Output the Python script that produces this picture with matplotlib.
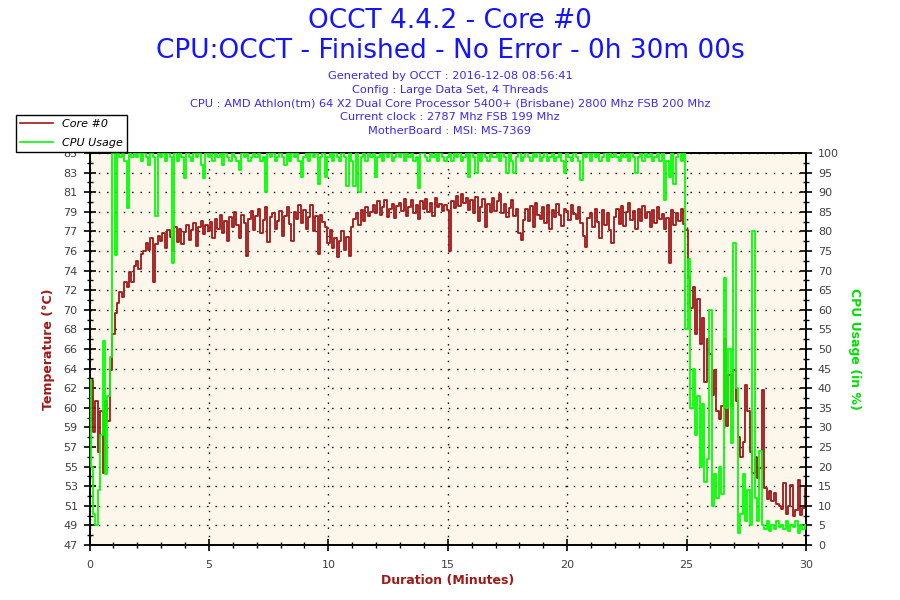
import matplotlib
matplotlib.use("Agg")
import matplotlib.pyplot as plt
from matplotlib.lines import Line2D
from matplotlib.ticker import MultipleLocator, FixedLocator
import numpy as np

# ---------------- data ----------------
# samples every 0.1 minute from 0.0 to 30.0
sample_step_min = 0.1

core0_temp = [
    59, 63, 58, 61, 56, 60, 54, 61, 59, 64,
    67.5, 69.5, 70.5, 71.5, 71, 72.5, 72, 73.5, 72.5, 74,
    74.5, 73.8, 75.2, 75.5, 76.3, 75.6, 76.8, 72.5, 76.2, 77.0,
    76.5, 77.2, 75.8, 77.5, 76.9, 75.5, 77.8, 76.4, 77.6, 76.2,
    77.3, 78.0, 76.6, 77.5, 78.2, 76.0, 77.8, 78.4, 77.1, 78.0,
    77.4, 78.3, 76.8, 78.6, 77.6, 79.0, 77.2, 78.4, 76.5, 78.8,
    77.8, 79.3, 78.0, 76.8, 79.0, 78.2, 75.0, 78.6, 79.4, 77.5,
    78.9, 79.6, 77.2, 78.5, 79.8, 76.4, 78.8, 79.2, 77.6, 78.4,
    79.4, 77.0, 78.9, 79.8, 78.1, 76.5, 79.3, 78.6, 80.0, 78.2,
    79.5, 77.6, 78.8, 80.0, 77.4, 78.9, 75.2, 79.0, 78.3, 77.8,
    76.3, 77.5, 75.8, 76.8, 74.9, 76.5, 77.4, 75.6, 76.9, 75.0,
    77.8, 78.6, 79.2, 78.0, 79.5, 78.4, 79.8, 78.9, 79.3, 80.0,
    79.2, 80.3, 79.0, 79.8, 80.4, 78.8, 79.6, 80.1, 78.7, 79.9,
    80.2, 79.4, 80.5, 78.9, 79.8, 80.4, 79.2, 80.0, 78.6, 80.3,
    79.6, 80.5, 79.3, 80.2, 78.9, 80.6, 79.8, 80.1, 79.4, 80.0,
    79.5, 75.5, 80.3, 79.7, 80.8, 79.9, 81.0, 80.2, 80.6, 79.5,
    80.4, 79.2, 80.7, 78.4, 79.8, 80.5, 77.8, 80.1, 79.3, 80.6,
    79.4, 80.3, 81.0, 79.2, 80.1, 78.8, 79.7, 80.4, 78.9, 79.6,
    77.2, 76.6, 78.5, 79.6, 78.4, 79.9, 77.8, 80.2, 79.0, 78.6,
    79.8, 78.2, 80.0, 77.6, 79.5, 78.8, 80.1, 79.0, 77.9, 79.6,
    79.4, 78.5, 80.0, 79.1, 78.6, 79.8, 78.2, 77.0, 75.9, 78.7,
    79.2, 77.8, 79.6, 78.3, 76.8, 79.5, 78.0, 79.2, 77.5, 76.3,
    78.8, 79.6, 78.1, 79.9, 77.9, 79.3, 80.2, 78.5, 79.4, 77.6,
    79.6, 78.4, 79.9, 78.7, 79.3, 77.8, 79.5, 78.2, 79.8, 78.6,
    79.1, 77.6, 78.7, 74.3, 79.5, 78.0, 79.2, 78.4, 79.6, 78.1,
    77.5, 73.0, 70.0, 72.0, 67.5, 70.8, 66.5, 69.0, 62.8, 67.0,
    65.5, 61.5, 64.0, 60.0, 59.2, 60.5, 67.0, 58.5, 63.5, 60.5,
    64.0, 61.0, 57.5, 55.5, 57.0, 62.5, 60.0, 56.0, 54.0, 55.5,
    53.5, 54.5, 62.0, 52.5, 51.5, 52.2, 51.3, 52.0, 51.0, 50.8,
    50.5, 53.0, 50.0, 50.8, 52.8, 49.8, 50.4, 53.3, 49.9, 50.6,
    52.5,
]

cpu_usage = [
    42, 20, 8, 5, 14, 28, 52, 18, 38, 48,
    100, 74, 100, 99, 100, 98, 86, 100, 99, 100,
    99, 100, 98, 100, 99, 97, 100, 99, 84, 100,
    99, 100, 98, 100, 99, 72, 100, 98, 100, 99,
    93.6, 100, 99, 98, 100, 99, 100, 97, 93.6, 100,
    99, 100, 98, 100, 99, 100, 97, 100, 99, 98,
    100, 99, 98, 95.6, 100, 99, 100, 98, 99, 100,
    99, 100, 98, 99, 90, 100, 99, 100, 98, 99,
    100, 99, 97, 100, 98, 100, 99, 100, 98, 94,
    99, 100, 98, 100, 99, 100, 92, 99, 100, 94,
    99, 100, 98, 100, 99, 98, 100, 99, 91.5, 100,
    98, 91.5, 100, 90, 99, 100, 98, 100, 99, 100,
    94, 99, 100, 98, 100, 99, 100, 98, 99, 100,
    99, 100, 98, 100, 99, 100, 98, 99, 91, 100,
    100, 99, 98, 100, 99, 100, 98, 100, 99, 98,
    99, 100, 98, 100, 99, 100, 98, 99, 100, 94,
    100, 99, 95, 100, 98, 100, 99, 98, 100, 99,
    99, 100, 98, 100, 99, 95, 100, 98, 95, 99,
    100, 98, 99, 100, 99, 98, 100, 99, 100, 98,
    99, 100, 98, 99, 100, 98, 99, 100, 98, 95,
    100, 99, 98, 100, 99, 98, 93, 100, 99, 100,
    98, 100, 99, 100, 98, 99, 100, 98, 100, 99,
    100, 99, 98, 100, 99, 100, 98, 100, 99, 95,
    99, 100, 98, 100, 99, 100, 98, 99, 100, 98,
    100, 88, 98, 94, 100, 92, 99, 100, 98, 100,
    55, 73, 35, 45, 28, 38, 20, 36, 16, 22,
    60, 10, 18, 12, 20, 13, 68, 35, 50, 26,
    77, 40, 3, 8, 18, 6, 14, 5, 80, 12,
    6, 24, 5, 4, 6, 3.5, 5, 4, 6, 4.5,
    5, 4, 6, 3.5, 5, 4.5, 6, 3, 5, 4,
    5,
]

temp_tick_labels = ['47', '49', '51', '53', '55', '57', '59', '60', '62', '64',
                    '66', '68', '70', '72', '74', '76', '77', '79', '81', '83', '85']
temp_min, temp_max = 47, 85
x_ticks = [0, 5, 10, 15, 20, 25, 30]

title_lines = ["OCCT 4.4.2 - Core #0",
               "CPU:OCCT - Finished - No Error - 0h 30m 00s"]
info_lines = ["Generated by OCCT : 2016-12-08 08:56:41",
              "Config : Large Data Set, 4 Threads",
              "CPU : AMD Athlon(tm) 64 X2 Dual Core Processor 5400+ (Brisbane) 2800 Mhz FSB 200 Mhz",
              "Current clock : 2787 Mhz FSB 199 Mhz",
              "MotherBoard : MSI: MS-7369"]

# ---------------- figure ----------------
RED = '#A01818'
GREEN = '#00FF00'
GREEN_LABEL = '#00E000'
BLUE = '#1414FF'
TICKC = '#404040'

t = np.arange(len(core0_temp)) * sample_step_min

fig = plt.figure(figsize=(9, 6), dpi=100)
ax = fig.add_axes([89.5 / 900, 1 - 545 / 600, (806 - 89.5) / 900, (545 - 153) / 600])
ax.set_facecolor('#FCF7EA')

ax.plot(t, core0_temp, color=RED, lw=1.3, drawstyle='steps-mid', zorder=3)
ax.set_xlim(0, 30)
ax.set_ylim(temp_min, temp_max)

n = len(temp_tick_labels)
temp_pos = [temp_min + (temp_max - temp_min) * k / (n - 1) for k in range(n)]
ax.yaxis.set_major_locator(FixedLocator(temp_pos))
ax.set_yticklabels(temp_tick_labels)
ax.yaxis.set_minor_locator(FixedLocator([p + (temp_max - temp_min) / (n - 1) / 2 for p in temp_pos[:-1]]))
ax.set_xticks(x_ticks)
ax.xaxis.set_minor_locator(MultipleLocator(1))

ax.grid(True, which='major', color='black', linestyle=(0, (1, 5)), linewidth=1.0, zorder=1)

ax.tick_params(axis='both', which='major', direction='inout', length=9, width=1.2,
               labelsize=8, labelcolor=TICKC, color='black')
ax.tick_params(axis='both', which='minor', direction='inout', length=5, width=1.0, color='black')
ax.tick_params(axis='y', pad=4)
ax.tick_params(axis='x', pad=6)
for s in ax.spines.values():
    s.set_linewidth(1.2)
    s.set_color('black')

ax2 = ax.twinx()
ax2.plot(t, cpu_usage, color=GREEN, lw=1.3, drawstyle='steps-mid', zorder=4)
ax2.set_ylim(0, 100)
ax2.set_yticks(range(0, 101, 5))
ax2.yaxis.set_minor_locator(MultipleLocator(2.5))
ax2.tick_params(axis='y', which='major', direction='inout', length=9, width=1.2,
                labelsize=8, labelcolor=TICKC, pad=4)
ax2.tick_params(axis='y', which='minor', direction='inout', length=5, width=1.0)
for s in ax2.spines.values():
    s.set_linewidth(1.2)

ax.set_ylabel('Temperature (°C)', color=RED, fontsize=9, fontweight='bold', labelpad=6)
ax2.set_ylabel('CPU Usage (in %)', color=GREEN_LABEL, fontsize=9, fontweight='bold',
               rotation=270, labelpad=16)
ax.set_xlabel('Duration (Minutes)', color=RED, fontsize=9, fontweight='bold', labelpad=3)

# titles
fig.text(0.5, 1 - 21 / 600, title_lines[0], ha='center', va='center', color=BLUE, fontsize=19)
fig.text(0.5, 1 - 51 / 600, title_lines[1], ha='center', va='center', color=BLUE, fontsize=19)
for i, line in enumerate(info_lines):
    fig.text(0.5, 1 - (76 + 13.7 * i) / 600, line, ha='center', va='center',
             color='#3A2AEE', fontsize=8.2)

# legend
handles = [Line2D([], [], color=RED, lw=1.2), Line2D([], [], color=GREEN, lw=1.2)]
leg = fig.legend(handles, ['Core #0', 'CPU Usage'], loc='upper left',
                 bbox_to_anchor=(16 / 900, 1 - 115 / 600), borderaxespad=0,
                 fancybox=False, frameon=True, edgecolor='black', framealpha=1,
                 prop={'style': 'italic', 'size': 8}, handlelength=3.0,
                 handletextpad=0.8, borderpad=0.35, labelspacing=0.85)
leg.get_frame().set_linewidth(1.0)

fig.savefig('out.png', dpi=100)
